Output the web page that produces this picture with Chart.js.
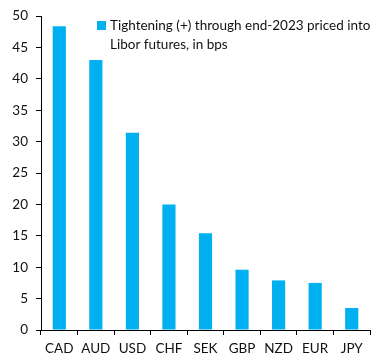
<!DOCTYPE html>
<html>
<head>
<meta charset="utf-8">
<script src="https://cdn.jsdelivr.net/npm/chart.js@4"></script>
<style>
  html, body { margin: 0; padding: 0; background: #fff; }
  #wrap { position: relative; width: 383px; height: 360px; }
</style>
</head>
<body>
<div id="wrap"><canvas id="chart" width="383" height="360"></canvas></div>
<script>
// Currencies and priced-in tightening (bps)
const categories = ['CAD', 'AUD', 'USD', 'CHF', 'SEK', 'GBP', 'NZD', 'EUR', 'JPY'];
const tightening = [48.4, 43.0, 31.4, 20.0, 15.4, 9.6, 7.9, 7.5, 3.5];
const yTicks = [0, 5, 10, 15, 20, 25, 30, 35, 40, 45, 50];
const legendLines = ['Tightening (+) through end-2023 priced into', 'Libor futures, in bps'];

const barColor = '#00B0F0';
const fontFamily = "Lato, 'Open Sans', sans-serif";

// Two-line legend drawn inside the plot, top right
const legendPlugin = {
  id: 'wrapLegend',
  afterDraw(chart) {
    const ctx = chart.ctx;
    ctx.save();
    ctx.fillStyle = barColor;
    ctx.fillRect(97, 21, 9, 9);
    ctx.fillStyle = '#111';
    ctx.font = '13.5px ' + fontFamily;
    ctx.textBaseline = 'middle';
    ctx.textAlign = 'left';
    ctx.fillText(legendLines[0], 110, 26);
    ctx.fillText(legendLines[1], 110, 45);
    ctx.restore();
  }
};

new Chart(document.getElementById('chart'), {
  type: 'bar',
  data: {
    labels: categories,
    datasets: [{
      label: legendLines.join(' '),
      data: tightening,
      backgroundColor: barColor,
      barPercentage: 0.36,
      categoryPercentage: 1
    }]
  },
  options: {
    responsive: false,
    animation: false,
    layout: { padding: { left: 0, right: 13, top: 15, bottom: 0 } },
    plugins: { legend: { display: false }, tooltip: { enabled: false } },
    scales: {
      x: {
        afterFit: (s) => { s.height = 30; },
        grid: { offset: true, drawOnChartArea: false, tickLength: 5, color: '#000' },
        border: { color: '#000', width: 1 },
        ticks: { color: '#111', padding: 6, font: { family: fontFamily, size: 13.5 } }
      },
      y: {
        min: 0,
        max: 50,
        afterFit: (s) => { s.width = 41; },
        afterBuildTicks: (s) => { s.ticks = yTicks.map(v => ({ value: v })); },
        grid: { drawOnChartArea: false, tickLength: 5, color: '#000' },
        border: { color: '#000', width: 1 },
        ticks: { color: '#111', padding: 8, font: { family: fontFamily, size: 13.5 } }
      }
    }
  },
  plugins: [legendPlugin]
});
</script>
</body>
</html>
